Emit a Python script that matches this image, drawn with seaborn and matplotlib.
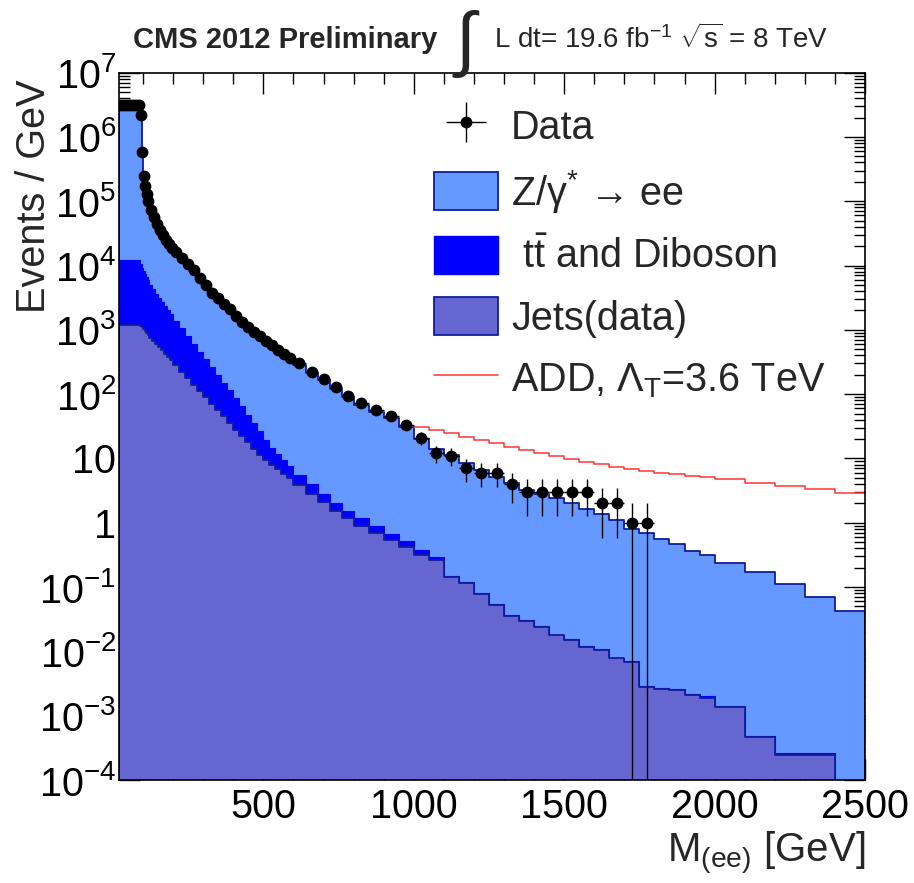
import numpy as np
import pandas as pd
import matplotlib
matplotlib.use("Agg")
import matplotlib.pyplot as plt
import seaborn as sns
from matplotlib.patches import Patch
from matplotlib.lines import Line2D
from matplotlib.ticker import MultipleLocator, FixedLocator, FixedFormatter, LogLocator, NullFormatter

# ---------------- data ----------------
bin_edges = [20, 30, 40, 50, 60, 70, 80, 90,
             95, 100, 105, 110, 115, 120,
             130, 140, 150, 160, 170, 180, 190, 200,
             220, 240, 260, 280, 300, 320, 340, 360, 380, 400,
             420, 440, 460, 480, 500, 520, 540, 560, 580, 600,
             640, 680, 720, 760, 800, 850, 900, 950, 1000,
             1050, 1100, 1150, 1200, 1250, 1300, 1350, 1400, 1450, 1500,
             1550, 1600, 1650, 1700, 1750, 1800, 1850, 1900, 1950, 2000,
             2100, 2200, 2300, 2400, 2500]

data_counts = [3.1e6, 3.1e6, 3.1e6, 3.1e6, 3.1e6, 3.1e6, 3.1e6,
               2.2e6, 5.9e5, 2.5e5, 1.7e5, 1.3e5, 1.0e5,
               7.4e4, 5.75e4, 4.47e4, 3.63e4, 2.95e4, 2.51e4, 2.14e4, 1.86e4,
               1.62e4, 1.32e4, 1.05e4, 8.5e3, 6.5e3, 4.9e3, 3.8e3, 3.1e3, 2.5e3, 2.1e3,
               1.66e3, 1.32e3, 1.10e3, 933, 794, 676, 575, 490, 417, 363,
               300, 222, 175, 127, 93, 72, 56, 45, 33,
               21, 12, 11, 7, 6, 6, 4, 3, 3, 3,
               3, 3, 2, 2, 1, 1, 0, 0, 0, 0,
               0, 0, 0, 0, 0]

# top of the stack (Z/gamma* + ttbar/diboson + jets)
stack_total = [2.95e6, 2.95e6, 2.95e6, 2.95e6, 2.95e6, 2.95e6, 2.95e6,
               2.9e6, 5.6e5, 2.4e5, 1.65e5, 1.25e5, 9.6e4,
               7.1e4, 5.5e4, 4.3e4, 3.5e4, 2.85e4, 2.4e4, 2.05e4, 1.78e4,
               1.55e4, 1.26e4, 1.0e4, 8.1e3, 6.2e3, 4.7e3, 3.6e3, 2.95e3, 2.4e3, 2.0e3,
               1.58e3, 1.26e3, 1.05e3, 890, 760, 645, 550, 470, 400, 345,
               285, 212, 165, 122, 90, 69, 53, 42, 31,
               20, 14.1, 11.2, 8.5, 6.6, 5.2, 4.2, 3.2, 2.8, 2.4,
               2.0, 1.66, 1.35, 1.12, 0.79, 0.69, 0.55, 0.46, 0.37, 0.32,
               0.24, 0.17, 0.11, 0.069, 0.042]

# ttbar/diboson stacked on jets
ttbar_plus_jets = [1.2e4, 1.2e4, 1.2e4, 1.2e4, 1.2e4, 1.2e4, 1.2e4,
                   1.05e4, 9.3e3, 8.3e3, 7.4e3, 6.6e3, 5.9e3,
                   5.0e3, 4.27e3, 3.63e3, 3.16e3, 2.69e3, 2.34e3, 2.0e3, 1.74e3,
                   1.38e3, 1.05e3, 794, 603, 457, 347, 263, 200, 151, 115,
                   87, 65, 48, 35.5, 26.3, 19.5, 14.8, 11.7, 9.3, 7.6,
                   5.6, 4.0, 2.8, 2.0, 1.51, 1.17, 0.89, 0.66, 0.52,
                   0.38, 0.295, 0.150, 0.118, 0.081, 0.054, 0.037, 0.031, 0.025, 0.0183,
                   0.0155, 0.012, 0.0108, 0.0080, 0.0071, 0.0029, 0.0027, 0.0026, 0.0022, 0.0020,
                   0.00142, 0.00048, 0.00026, 0.00026, 0]

jets = [1.18e3, 1.18e3, 1.18e3, 1.18e3, 1.18e3, 1.18e3, 1.18e3,
        1.15e3, 1.1e3, 1.02e3, 955, 890, 830,
        760, 676, 603, 537, 479, 427, 380, 339,
        282, 224, 178, 141, 112, 89, 71, 56, 45, 35.5,
        28, 22.4, 17.8, 14.1, 11.5, 9.5, 7.9, 6.8, 5.75, 4.9,
        3.8, 2.8, 2.1, 1.55, 1.17, 0.89, 0.69, 0.54, 0.42,
        0.32, 0.26, 0.145, 0.115, 0.079, 0.052, 0.036, 0.030, 0.024, 0.0178,
        0.0151, 0.0117, 0.0105, 0.0078, 0.0069, 0.0028, 0.0026, 0.0025, 0.0021, 0.0019,
        0.00138, 0.00046, 0.000245, 0.000245, 0]

# ADD signal (bins from 1000 GeV upward)
add_first_edge = 1000
add_values = [31, 28.2, 24.5, 21.7, 19.3, 17.1, 15.1, 13.5, 12.0, 10.9,
              9.8, 8.85, 8.07, 7.4, 6.8, 6.3, 6.0, 5.7, 5.4, 5.2,
              4.76, 4.17, 3.7, 3.33, 2.95]

ytick_values = [1e-4, 1e-3, 1e-2, 1e-1, 1, 10, 1e2, 1e3, 1e4, 1e5, 1e6, 1e7]
ytick_labels = [r'$10^{-4}$', r'$10^{-3}$', r'$10^{-2}$', r'$10^{-1}$', '1', '10',
                r'$10^{2}$', r'$10^{3}$', r'$10^{4}$', r'$10^{5}$', r'$10^{6}$', r'$10^{7}$']
xtick_values = [500, 1000, 1500, 2000, 2500]

legend_labels = ['Data', r'Z/γ$^{*}$ → ee', r' $\mathrm{t\bar{t}}$ and Diboson',
                 'Jets(data)', r'ADD, Λ$_{T}$=3.6 TeV']

# ---------------- style ----------------
sns.set_style('ticks')
plt.rcParams['font.family'] = ['Liberation Sans', 'DejaVu Sans']
plt.rcParams['mathtext.fontset'] = 'custom'
plt.rcParams['mathtext.rm'] = 'Liberation Sans'
plt.rcParams['mathtext.it'] = 'Liberation Sans:italic'
plt.rcParams['mathtext.bf'] = 'Liberation Sans:bold'
plt.rcParams['mathtext.sf'] = 'Liberation Sans'
plt.rcParams['mathtext.default'] = 'regular'

c_dy = '#6699ff'
c_tt = '#0000ff'
c_jets = '#6666d0'
c_line = '#101c9c'
c_add = '#ff3333'

edges = np.array(bin_edges, dtype=float)
centers = 0.5 * (edges[:-1] + edges[1:])
halfw = 0.5 * np.diff(edges)

df = pd.DataFrame({'mass': centers, 'total': stack_total, 'ttj': ttbar_plus_jets,
                   'jets': jets, 'data': data_counts})
i0 = bin_edges.index(add_first_edge)
df_add = pd.DataFrame({'mass': centers[i0:], 'add': add_values})

fig = plt.figure(figsize=(9.14, 8.83), dpi=100)
ax = fig.add_axes([0.1302, 0.1166, 0.8162, 0.8012])

common = dict(data=df, x='mass', bins=list(bin_edges), element='step', fill=True,
              alpha=1, ax=ax, stat='count')
sns.histplot(weights='total', color=c_dy, edgecolor=c_line, linewidth=1.3, zorder=1.0, **common)
sns.histplot(weights='ttj', color=c_tt, edgecolor=c_tt, linewidth=0.8, zorder=1.1, **common)
sns.histplot(weights='jets', color=c_jets, edgecolor=c_line, linewidth=1.3, zorder=1.2, **common)

sns.histplot(data=df_add, x='mass', weights='add', bins=list(bin_edges[i0:]),
             element='step', fill=False, color=c_add, linewidth=1.1, ax=ax, zorder=1.5)

dc = np.array(data_counts, dtype=float)
m = dc > 0
err = ax.errorbar(centers[m], dc[m], xerr=halfw[m], yerr=np.sqrt(dc[m]), fmt='o',
                  color='black', ms=7.5, elinewidth=1.0, capsize=0, zorder=5)

ax.set_yscale('log')
ax.set_xlim(bin_edges[0], bin_edges[-1])
ax.set_ylim(ytick_values[0], ytick_values[-1])

ax.xaxis.set_major_locator(FixedLocator(xtick_values))
ax.xaxis.set_minor_locator(MultipleLocator(100))
ax.yaxis.set_major_locator(FixedLocator(ytick_values))
ax.yaxis.set_major_formatter(FixedFormatter(ytick_labels))
ax.yaxis.set_minor_locator(LogLocator(base=10, subs=np.arange(2, 10), numticks=50))
ax.yaxis.set_minor_formatter(NullFormatter())

ax.tick_params(which='both', direction='in', top=True, right=True, width=1.0, colors='black')
ax.tick_params(which='major', length=15)
ax.tick_params(which='minor', length=8)
ax.tick_params(axis='x', labelsize=28.5, pad=6)
ax.tick_params(axis='y', labelsize=28.5, pad=2)
for s in ax.spines.values():
    s.set_linewidth(1.2)
    s.set_color('black')

ax.set_ylabel('Events / GeV', fontsize=28.5, loc='top')
ax.yaxis.set_label_coords(-0.088, 0.99)
ax.set_xlabel(r'M$_{(ee)}$ [GeV]', fontsize=29, loc='right')
ax.xaxis.set_label_coords(1.0, -0.071)

handles = [err,
           Patch(facecolor=c_dy, edgecolor=c_line, linewidth=1.3),
           Patch(facecolor=c_tt, edgecolor=c_tt, linewidth=1.0),
           Patch(facecolor=c_jets, edgecolor=c_line, linewidth=1.3),
           Line2D([], [], color=c_add, linewidth=1.1)]
ax.legend(handles, legend_labels, loc='upper left', bbox_to_anchor=(434 / 914, 1 - 106 / 883),
          bbox_transform=fig.transFigure, frameon=False, fontsize=28.5,
          handlelength=1.62, handleheight=1.11, labelspacing=0.53, handletextpad=0.33,
          borderpad=0, borderaxespad=0)

fig.text(133 / 914, 1 - 48 / 883, 'CMS 2012 Preliminary', fontsize=21, fontweight='bold',
         va='baseline', ha='left')
fig.text(452 / 914, 1 - 44 / 883, r'$\int$', fontsize=52, va='center', ha='left')
fig.text(494 / 914, 1 - 48 / 883, r'L dt= 19.6 fb$^{-1}$ $\sqrt{s}$ = 8 TeV', fontsize=20,
         va='baseline', ha='left')

fig.savefig('out.png', dpi=100)
